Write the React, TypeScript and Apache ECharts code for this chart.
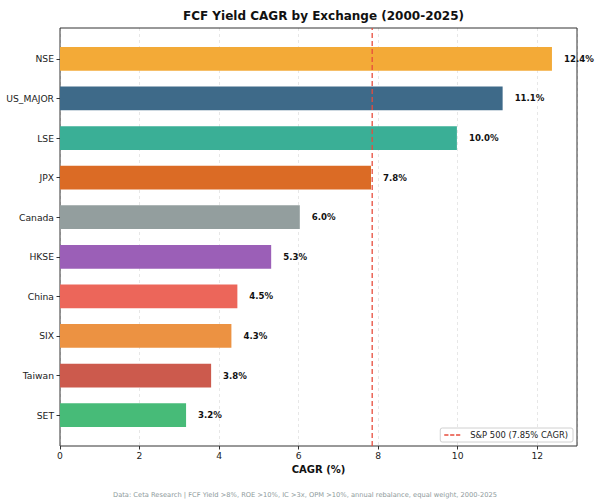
import React, { useEffect, useRef } from "react";
import * as echarts from "echarts";

const categories = ["NSE", "US_MAJOR", "LSE", "JPX", "Canada", "HKSE", "China", "SIX", "Taiwan", "SET"];
const cagrValues = [12.37, 11.13, 9.98, 7.82, 6.03, 5.31, 4.46, 4.31, 3.80, 3.17];
const barColors = ["#f3aa37", "#3e6a89", "#3aaf96", "#db6b25", "#939e9e", "#9b5fb7", "#ec665a", "#ec9242", "#cc5a4d", "#47bb78"];
const benchmarkName = "S&P 500 (7.85% CAGR)";
const benchmarkValue = 7.85;
const xTicks = { min: 0, max: 13, interval: 2 };
const titleText = "FCF Yield CAGR by Exchange (2000-2025)";
const footnoteText = "Data: Ceta Research | FCF Yield >8%, ROE >10%, IC >3x, OPM >10%, annual rebalance, equal weight, 2000-2025";

const FONT = "DejaVu Sans";
const DASH_ICON = "path://M0,0h4.2v1.5h-4.2z M5.9,0h4.2v1.5h-4.2z M11.8,0h4.2v1.5h-4.2z";

export default function App() {
  const ref = useRef<HTMLDivElement>(null);
  useEffect(() => {
    if (!ref.current) return;
    const chart = echarts.init(ref.current, undefined, { renderer: "svg" });
    const option: any = {
      animation: false,
      backgroundColor: "#ffffff",
      title: [
        {
          text: titleText,
          left: 318.5,
          top: 5,
          textAlign: "center",
          textStyle: { fontFamily: FONT, fontSize: 12, fontWeight: "bold", color: "#111" },
        },
        {
          text: footnoteText,
          left: 300,
          top: 486,
          textAlign: "center",
          textStyle: { fontFamily: FONT, fontSize: 6.7, fontWeight: "normal", color: "#8e9a9b" },
        },
      ],
      legend: {
        data: [{ name: benchmarkName, icon: DASH_ICON }],
        right: 27,
        bottom: 58,
        orient: "horizontal",
        padding: [3, 5, 3, 4],
        itemWidth: 16,
        itemHeight: 1.5,
        backgroundColor: "#fff",
        borderColor: "#d0d0d0",
        borderWidth: 1,
        borderRadius: 2,
        itemStyle: { color: "#e74c3c", borderWidth: 0 },
        textStyle: { fontFamily: FONT, fontSize: 8.4, color: "#222", padding: [0, 0, 0, 5] },
      },
      grid: [
        { left: 60, right: 23, top: 39.1, bottom: 65.1, containLabel: false },
        { left: 60, right: 23, top: 28, bottom: 54, show: true, borderColor: "#333", borderWidth: 1, backgroundColor: "transparent", containLabel: false },
      ],
      xAxis: [
        {
          gridIndex: 0,
          type: "value",
          min: xTicks.min,
          max: xTicks.max,
          interval: xTicks.interval,
          show: false,
        },
        {
          gridIndex: 1,
          type: "value",
          min: xTicks.min,
          max: xTicks.max,
          interval: xTicks.interval,
          axisLine: { show: false },
          axisTick: { show: true, length: 3.5, lineStyle: { color: "#333" } },
          axisLabel: { fontFamily: FONT, fontSize: 9.2, color: "#222", margin: 5, showMaxLabel: false },
          splitLine: { show: true, lineStyle: { color: "rgba(0,0,0,0.12)", type: [3, 3], width: 0.8 } },
          name: "CAGR (%)",
          nameLocation: "middle",
          nameGap: 16,
          nameTextStyle: { fontFamily: FONT, fontSize: 10, fontWeight: "bold", color: "#111" },
        },
      ],
      yAxis: [
        {
          gridIndex: 0,
          type: "category",
          data: categories,
          inverse: true,
          axisLine: { show: false },
          axisTick: { show: true, alignWithLabel: true, length: 3.5, lineStyle: { color: "#333" } },
          axisLabel: { fontFamily: FONT, fontSize: 9.2, color: "#222", margin: 6 },
          splitLine: { show: false },
        },
        {
          gridIndex: 1,
          type: "value",
          min: 0,
          max: 1,
          show: false,
        },
      ],
      series: [
        {
          type: "bar",
          xAxisIndex: 0,
          yAxisIndex: 0,
          barWidth: "60%",
          data: cagrValues.map((v, i) => ({ value: v, itemStyle: { color: barColors[i] } })),
          label: {
            show: true,
            position: "right",
            distance: 12,
            formatter: (p: any) => `${Number(p.value).toFixed(1)}%`,
            fontFamily: FONT,
            fontSize: 8.6,
            fontWeight: "bold",
            color: "#111",
          },
        },
        {
          name: benchmarkName,
          type: "line",
          xAxisIndex: 1,
          yAxisIndex: 1,
          symbol: "none",
          data: [
            [benchmarkValue, 0],
            [benchmarkValue, 1],
          ],
          lineStyle: { color: "#e74c3c", width: 1.3, type: [5, 3] },
          itemStyle: { color: "#e74c3c" },
          z: 5,
        },
      ],
    };
    chart.setOption(option);
    return () => chart.dispose();
  }, []);
  return <div ref={ref} style={{ position: "fixed", left: 0, top: 0, width: 600, height: 500 }} />;
}
